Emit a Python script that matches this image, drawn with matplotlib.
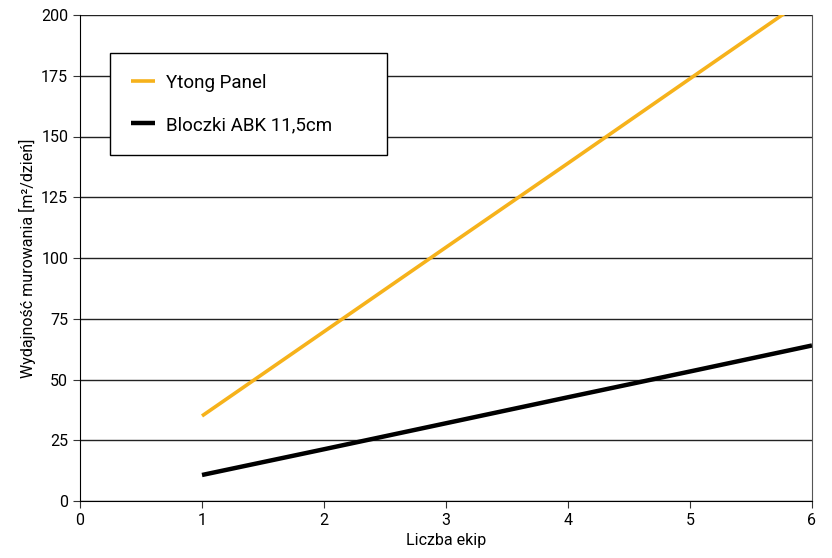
import numpy as np
import matplotlib.pyplot as plt

teams = [1, 2, 3, 4, 5, 6]
ytong_panel = [35, 69.7, 104.4, 139, 173.8, 208.5]
bloczki_abk = [10.7, 21.3, 32, 42.7, 53.3, 64]

plt.rcParams['font.family'] = ['Roboto', 'DejaVu Sans']

fig = plt.figure(figsize=(8.32, 5.58), dpi=100)
ax = fig.add_axes([80 / 832, 57 / 558, 732 / 832, 486 / 558])

ax.plot(teams, ytong_panel, color='#F6B21B', lw=2.6, label='Ytong Panel', solid_capstyle='butt')
ax.plot(teams, bloczki_abk, color='black', lw=3.2, label='Bloczki ABK 11,5cm', solid_capstyle='butt')

ax.set_xlim(0, 6)
ax.set_ylim(0, 200)
ax.set_xticks(range(0, 7))
ax.set_yticks(range(0, 201, 25))
ax.yaxis.grid(True, color='#222222', lw=1.0)
ax.set_axisbelow(True)
ax.spines['top'].set_visible(False)
ax.spines['right'].set_color('#555555')
ax.tick_params(axis='both', labelsize=11.5, color='#333333', length=5)
ax.set_xlabel('Liczba ekip', fontsize=11.5)
ax.set_ylabel('Wydajność murowania [m²/dzień]', fontsize=11.5)

# legend box spans px 110..387 horizontally, 53..157 vertically
leg = ax.legend(loc='upper left',
                bbox_to_anchor=(30 / 732, 1 - 38 / 486, 277 / 732, 0), mode='expand',
                fontsize=13.5, frameon=True, fancybox=False, edgecolor='black', framealpha=1,
                borderpad=1.1, labelspacing=1.3, handlelength=1.3, handletextpad=0.6,
                borderaxespad=0)
leg.get_frame().set_linewidth(1.0)

fig.savefig('out.png', dpi=100)
